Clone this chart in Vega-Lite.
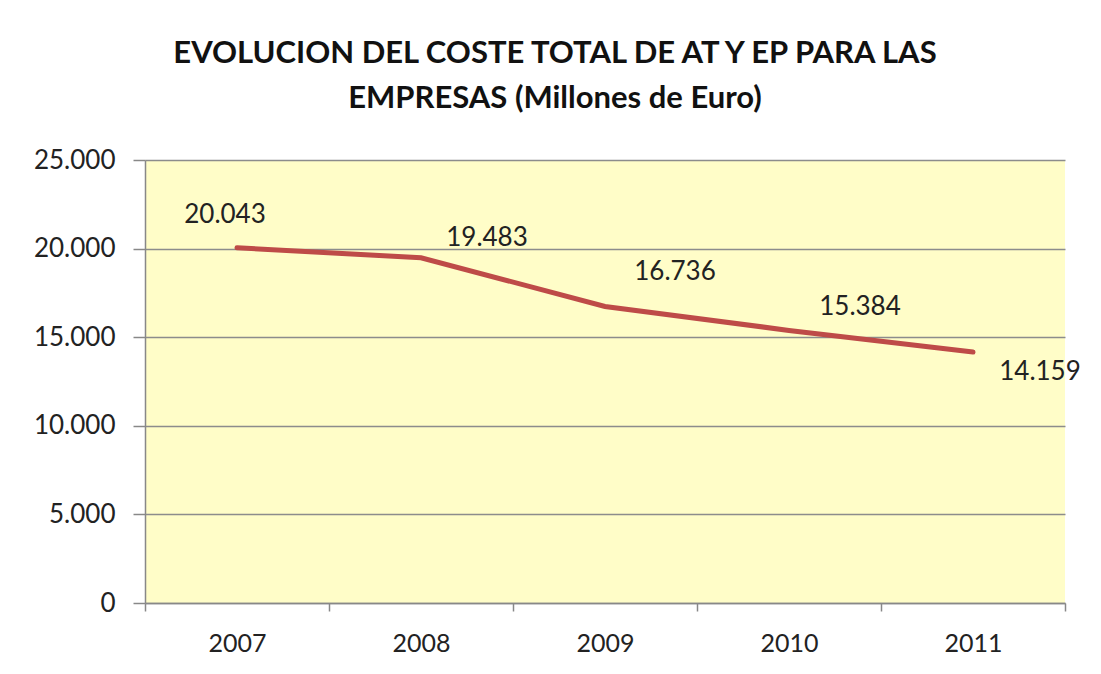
{
  "$schema": "https://vega.github.io/schema/vega-lite/v6.json",
  "width": 920,
  "height": 443,
  "autosize": "none",
  "padding": {"left": 145, "top": 160, "right": 36, "bottom": 71},
  "background": "white",
  "config": {
    "locale": {"number": {"decimal": ",", "thousands": ".", "grouping": [3], "currency": ["€", ""]}},
    "view": {"fill": "#FFFDC8", "stroke": null},
    "font": "Lato"
  },
  "title": {
    "text": ["EVOLUCION DEL COSTE TOTAL DE AT Y EP PARA LAS", "EMPRESAS (Millones de Euro)"],
    "font": "Lato",
    "fontSize": 31,
    "fontWeight": "bold",
    "color": "#111111",
    "lineHeight": 45,
    "anchor": "middle",
    "dx": -50,
    "offset": 32
  },
  "data": {
    "values": [
      {"year": "2007", "value": 20043},
      {"year": "2008", "value": 19483},
      {"year": "2009", "value": 16736},
      {"year": "2010", "value": 15384},
      {"year": "2011", "value": 14159}
    ]
  },
  "encoding": {
    "x": {
      "field": "year",
      "type": "ordinal",
      "scale": {"type": "band", "paddingInner": 0, "paddingOuter": 0},
      "axis": {
        "title": null,
        "labelAngle": 0,
        "labelFont": "Lato",
        "labelFontSize": 25,
        "labelColor": "#222222",
        "labelPadding": 20,
        "tickBand": "extent",
        "tickSize": 8,
        "tickColor": "#888888",
        "tickWidth": 1.5,
        "domainColor": "#888888",
        "domainWidth": 1.5,
        "grid": false
      }
    },
    "y": {
      "field": "value",
      "type": "quantitative",
      "scale": {"domain": [0, 25000]},
      "axis": {
        "title": null,
        "values": [0, 5000, 10000, 15000, 20000, 25000],
        "format": ",d",
        "labelFont": "Lato",
        "labelFontSize": 26,
        "labelColor": "#222222",
        "labelPadding": 18,
        "tickSize": 12,
        "tickColor": "#888888",
        "tickWidth": 1.5,
        "domainColor": "#888888",
        "domainWidth": 1.5,
        "gridColor": "#8C8C8C",
        "gridWidth": 1.5,
        "gridOpacity": 1
      }
    }
  },
  "layer": [
    {
      "mark": {"type": "line", "color": "#BE4B48", "strokeWidth": 5, "strokeCap": "round"}
    },
    {
      "transform": [{"filter": "datum.year == '2007'"}],
      "mark": {"type": "text", "font": "Lato", "fontSize": 26, "color": "#222222", "dx": -12, "dy": -33},
      "encoding": {"text": {"field": "value", "type": "quantitative", "format": ",d"}}
    },
    {
      "transform": [{"filter": "datum.year == '2008'"}],
      "mark": {"type": "text", "font": "Lato", "fontSize": 26, "color": "#222222", "dx": 66, "dy": -20},
      "encoding": {"text": {"field": "value", "type": "quantitative", "format": ",d"}}
    },
    {
      "transform": [{"filter": "datum.year == '2009'"}],
      "mark": {"type": "text", "font": "Lato", "fontSize": 26, "color": "#222222", "dx": 70, "dy": -34},
      "encoding": {"text": {"field": "value", "type": "quantitative", "format": ",d"}}
    },
    {
      "transform": [{"filter": "datum.year == '2010'"}],
      "mark": {"type": "text", "font": "Lato", "fontSize": 26, "color": "#222222", "dx": 71, "dy": -23},
      "encoding": {"text": {"field": "value", "type": "quantitative", "format": ",d"}}
    },
    {
      "transform": [{"filter": "datum.year == '2011'"}],
      "mark": {"type": "text", "font": "Lato", "fontSize": 26, "color": "#222222", "dx": 67, "dy": 20},
      "encoding": {"text": {"field": "value", "type": "quantitative", "format": ",d"}}
    }
  ]
}
